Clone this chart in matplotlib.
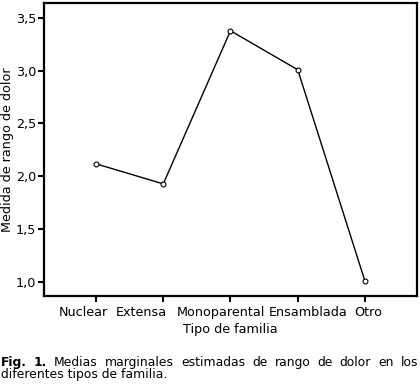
import matplotlib
matplotlib.use('Agg')
import matplotlib.pyplot as plt
import matplotlib.transforms as mtransforms

categorias = ['Nuclear', 'Extensa', 'Monoparental', 'Ensamblada', 'Otro']
medias = [2.117, 1.927, 3.379, 3.009, 1.005]
yticks = [1.0, 1.5, 2.0, 2.5, 3.0, 3.5]
ytick_labels = ['1,0', '1,5', '2,0', '2,5', '3,0', '3,5']

pie_negrita = ['Fig.', '1.']
pie_linea1 = ['Medias', 'marginales', 'estimadas', 'de', 'rango', 'de',
              'dolor', 'en', 'los']
pie_linea2 = 'diferentes tipos de familia.'

plt.rcParams['font.family'] = 'DejaVu Sans'
W, H = 420, 386

fig = plt.figure(figsize=(W / 100, H / 100), dpi=100)
ax = fig.add_axes([44 / W, 1 - 296 / H, 373 / W, 293 / H])

x = range(len(categorias))
ax.plot(x, medias, color='black', lw=1.0, marker='o', ms=3.5,
        mfc='white', mec='black', mew=0.8)

ax.set_xlim(-0.774, 4.774)
ax.set_ylim(0.864, 3.642)
ax.set_xticks(list(x))
ax.set_xticklabels(categorias, fontsize=9.2)
ax.set_yticks(yticks)
ax.set_yticklabels(ytick_labels, fontsize=9.2)
ax.tick_params(direction='out', length=4, width=1.5)
ax.tick_params(axis='y', pad=1.5)
ax.tick_params(axis='x', pad=3.5)
for s in ax.spines.values():
    s.set_linewidth(1.6)

# las etiquetas del eje x van corridas para que no se pisen (como en SPSS)
desplaz_px = [-13, -22, -9.5, 10, 3.5]
for lab, d in zip(ax.get_xticklabels(), desplaz_px):
    off = mtransforms.ScaledTranslation(d / 100, 0, fig.dpi_scale_trans)
    lab.set_transform(lab.get_transform() + off)

ax.set_xlabel('Tipo de familia', fontsize=9.2)
ax.xaxis.set_label_coords(0.5, -(330 - 296) / 293, transform=ax.transAxes)
ax.xaxis.label.set_va('center')
ax.set_ylabel('Medida de rango de dolor', fontsize=9.2)
ax.yaxis.set_label_coords(-(44 - 7) / 373, 0.5)
ax.yaxis.label.set_va('center')

# pie de figura, primera linea justificada
fs_pie = 8.9
r = fig.canvas.get_renderer()
palabras = []
for i, w in enumerate(pie_negrita + pie_linea1):
    peso = 'bold' if i < len(pie_negrita) else 'normal'
    t = fig.text(0, 1 - 366 / H, w, fontsize=fs_pie, fontweight=peso,
                 ha='left', va='baseline')
    palabras.append(t)
anchos = [t.get_window_extent(r).width for t in palabras]
x0, x1 = 1, 418
hueco = (x1 - x0 - sum(anchos)) / (len(palabras) - 1)
pos = x0
for t, a in zip(palabras, anchos):
    t.set_x(pos / W)
    pos += a + hueco

fig.text(1 / W, 1 - 378 / H, pie_linea2, fontsize=fs_pie,
         ha='left', va='baseline')

fig.savefig('out.png', dpi=100)
